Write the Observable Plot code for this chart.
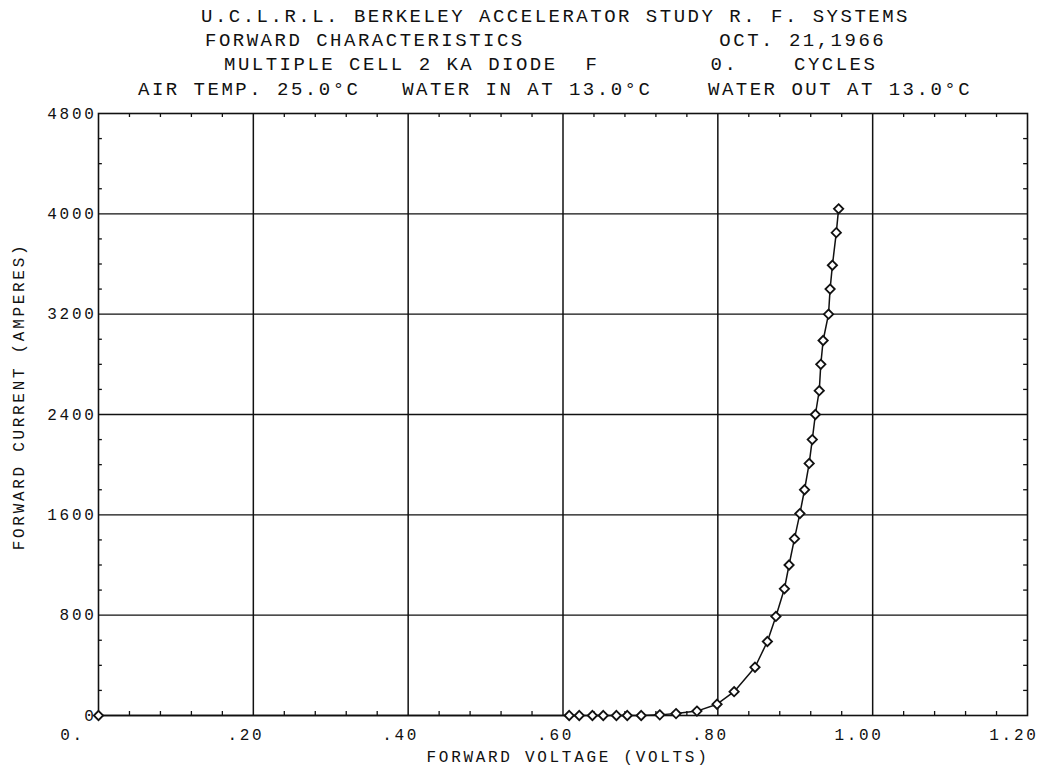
<!DOCTYPE html>
<html><head><meta charset="utf-8">
<script src="https://cdn.jsdelivr.net/npm/d3@7"></script>
<script src="https://cdn.jsdelivr.net/npm/@observablehq/plot@0.6"></script>
<style>
body{margin:0;background:#fff;}
#title{position:relative;width:1040px;height:104px;font-family:"Liberation Mono",monospace;font-size:19px;letter-spacing:2.5px;color:#111;white-space:pre;}
#title div{position:absolute;line-height:24px;}
#chart svg{display:block;}
</style></head><body>
<div id="title"></div><div id="chart"></div>
<script>
const titleLines = [
  "U.C.L.R.L. BERKELEY ACCELERATOR STUDY R. F. SYSTEMS",
  "FORWARD CHARACTERISTICS              OCT. 21,1966",
  "MULTIPLE CELL 2 KA DIODE  F        0.    CYCLES",
  "AIR TEMP. 25.0°C   WATER IN AT 13.0°C    WATER OUT AT 13.0°C"
];
const titleLeft = [201, 205, 224, 138];
const titleTop = [5, 29, 53, 78];

const xTicks = [0, 0.2, 0.4, 0.6, 0.8, 1.0, 1.2];
const xTickLabels = ["0.  ", ".20", ".40", ".60", ".80", "1.00", "1.20"];
const yTicks = [0, 800, 1600, 2400, 3200, 4000, 4800];
const yTickLabels = ["0", "800", "1600", "2400", "3200", "4000", "4800"];
const xGrid = [0.2, 0.4, 0.6, 0.8, 1.0];
const yGrid = [800, 1600, 2400, 3200, 4000];
const xLabel = "FORWARD VOLTAGE (VOLTS)";
const yLabel = "FORWARD CURRENT (AMPERES)";

const voltage = [0, 0.608, 0.621, 0.638, 0.652, 0.669, 0.683, 0.701, 0.725, 0.746, 0.773, 0.799, 0.821, 0.848, 0.864, 0.875, 0.886, 0.892, 0.899, 0.906, 0.912, 0.918, 0.922, 0.926, 0.931, 0.933, 0.936, 0.943, 0.945, 0.948, 0.953, 0.956];
const current = [0, 0, 0, 0, 0, 0, 0, 0, 5, 15, 35, 90, 190, 385, 590, 790, 1010, 1200, 1410, 1610, 1800, 2010, 2200, 2400, 2590, 2800, 2990, 3200, 3400, 3590, 3850, 4040];

const title = document.getElementById("title");
titleLines.forEach((t, i) => {
  const d = document.createElement("div");
  d.textContent = t;
  d.style.left = titleLeft[i] + "px";
  d.style.top = titleTop[i] + "px";
  title.appendChild(d);
});

const data = voltage.map((v, i) => ({v, c: current[i]}));
const xMinor = d3.range(0, 30).map(i => i * 0.04).filter((d, i) => i % 5 !== 0);
const yMinor = d3.range(0, 24).map(i => i * 200).filter((d, i) => i % 4 !== 0);
const ink = "#111";

const chart = Plot.plot({
  width: 1040,
  height: 665,
  marginTop: 9,
  marginBottom: 54,
  marginLeft: 98,
  marginRight: 13,
  style: {fontFamily: "Liberation Mono, monospace", fontSize: "16px", color: ink, background: "white", letterSpacing: "2.7px", whiteSpace: "pre"},
  x: {domain: [0, 1.2], axis: null},
  y: {domain: [0, 4800], axis: null},
  marks: [
    Plot.gridX(xGrid, {stroke: ink, strokeOpacity: 1, strokeWidth: 1.5}),
    Plot.gridY(yGrid, {stroke: ink, strokeOpacity: 1, strokeWidth: 1.3}),
    Plot.ruleX(xMinor, {x: d => d, y1: 0, y2: 32, stroke: ink, strokeWidth: 1.3}),
    Plot.ruleX(xMinor, {x: d => d, y1: 4800, y2: 4768, stroke: ink, strokeWidth: 1.3}),
    Plot.ruleY(yMinor, {y: d => d, x1: 0, x2: 0.005, stroke: ink, strokeWidth: 1.3}),
    Plot.ruleY(yMinor, {y: d => d, x1: 1.2, x2: 1.195, stroke: ink, strokeWidth: 1.3}),
    Plot.frame({stroke: ink, strokeWidth: 1.6}),
    Plot.axisX(xTicks, {anchor: "bottom", tickSize: 0, tickPadding: 13, tickFormat: (d, i) => xTickLabels[i], textAnchor: "end", dx: 11, label: null}),
    Plot.axisY(yTicks, {anchor: "left", tickSize: 0, tickPadding: 2, tickFormat: (d, i) => yTickLabels[i], label: null}),
    Plot.text([xLabel], {text: d => d, frameAnchor: "bottom", dx: 5, dy: 46, fill: ink}),
    Plot.text([yLabel], {text: d => d, frameAnchor: "left", textAnchor: "middle", dx: -80, dy: -18, rotate: -90, fill: ink, letterSpacing: "1.1px"}),
    Plot.line(data, {x: "v", y: "c", stroke: ink, strokeWidth: 1.5}),
    Plot.dot(data, {x: "v", y: "c", symbol: "diamond2", r: 4.2, fill: "white", stroke: ink, strokeWidth: 1.8})
  ]
});
document.getElementById("chart").appendChild(chart);
</script>
</body></html>
